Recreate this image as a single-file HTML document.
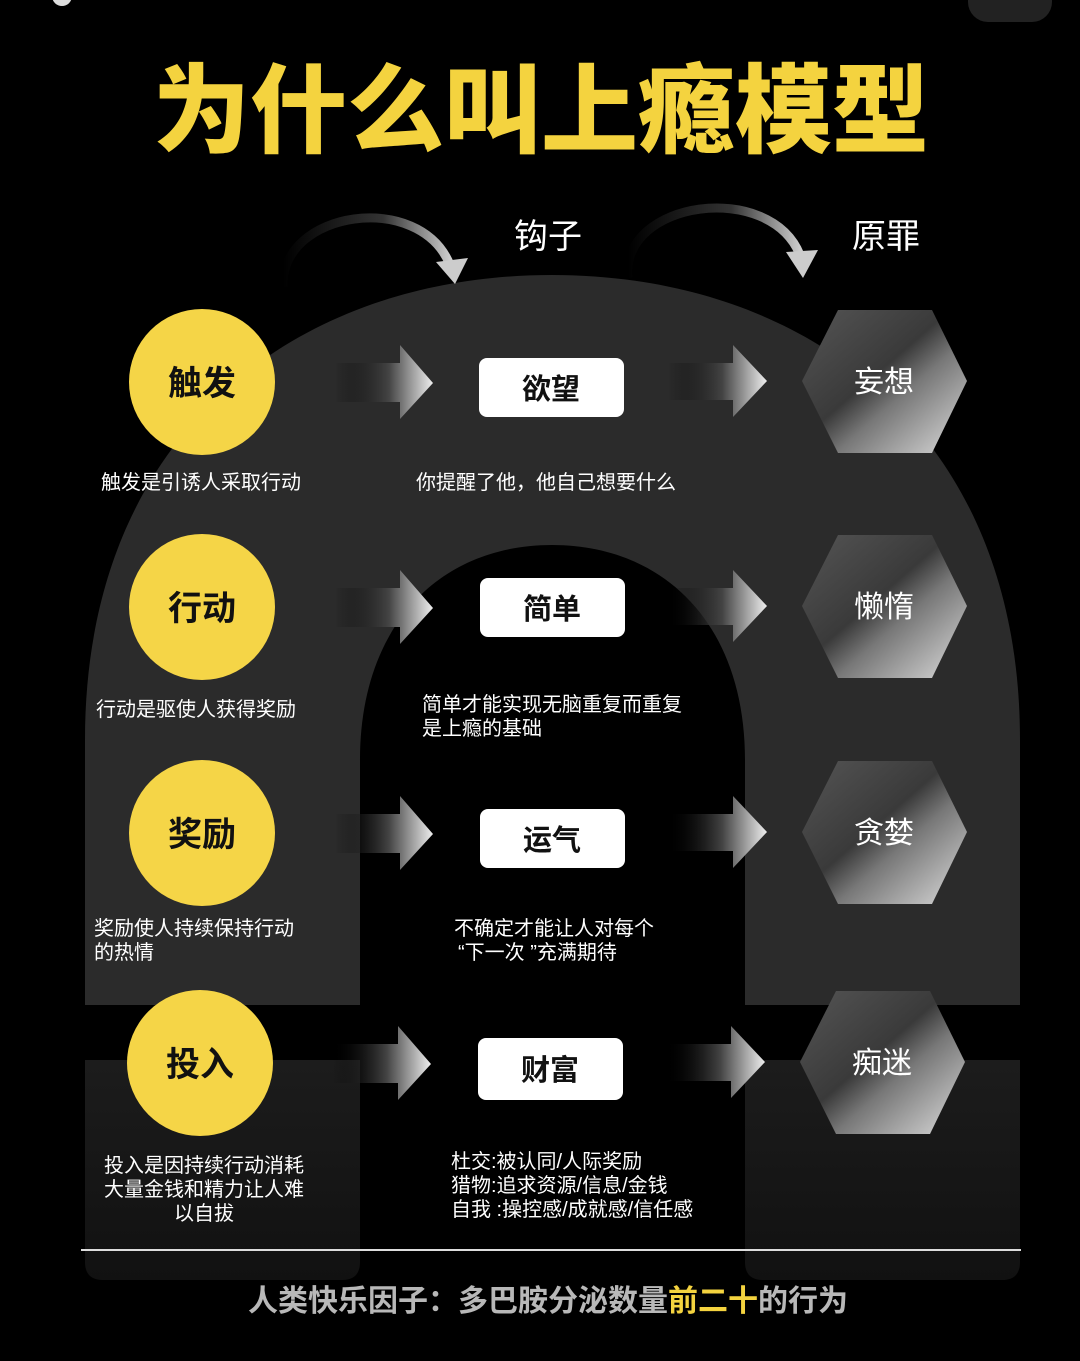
<!DOCTYPE html>
<html><head><meta charset="utf-8"><style>
html,body{margin:0;padding:0;background:#000;}
body{width:1080px;height:1361px;overflow:hidden;position:relative;font-family:"Liberation Sans","Noto Sans CJK SC",sans-serif;}
svg{position:absolute;left:0;top:0}
</style></head><body>
<svg width="1080" height="1361" viewBox="0 0 1080 1361" xmlns="http://www.w3.org/2000/svg">
<defs>
<linearGradient id="ar" x1="0" x2="1" y1="0" y2="0">
<stop offset="0" stop-color="#000" stop-opacity="0"/>
<stop offset="0.55" stop-color="#444"/>
<stop offset="1" stop-color="#eee"/>
</linearGradient>
<linearGradient id="hx" x1="0" y1="0" x2="1" y2="1">
<stop offset="0" stop-color="#555"/>
<stop offset="0.45" stop-color="#3a3a3a"/>
<stop offset="0.6" stop-color="#777"/>
<stop offset="1" stop-color="#ddd"/>
</linearGradient>
<linearGradient id="cv" x1="0" x2="1" y1="0" y2="0">
<stop offset="0" stop-color="#000"/>
<stop offset="0.6" stop-color="#333"/>
<stop offset="1" stop-color="#ccc"/>
</linearGradient>
<linearGradient id="leg" x1="0" x2="0" y1="0" y2="1">
<stop offset="0" stop-color="#1c1c1c"/>
<stop offset="1" stop-color="#111"/>
</linearGradient>
</defs>
<circle cx="62" cy="-4" r="10" fill="#ddd"/>
<rect x="968" y="-20" width="84" height="42" rx="20" fill="#222"/>
<text x="541" y="145" text-anchor="middle" font-family="Liberation Sans,Noto Sans CJK SC,sans-serif" font-weight="900" font-size="97" fill="#f4d33f">为什么叫上瘾模型</text>
<path d="M85,1005 L85,740 C85,430 300,275 552,275 C805,275 1020,430 1020,740 L1020,1005 L745,1005 L745,760 C745,625 665,545 552,545 C440,545 360,625 360,760 L360,1005 Z" fill="#2b2b2b"/>
<path d="M85,1060 L360,1060 L360,1262 Q360,1280 342,1280 L103,1280 Q85,1280 85,1262 Z" fill="url(#leg)"/>
<path d="M745,1060 L1020,1060 L1020,1262 Q1020,1280 1002,1280 L763,1280 Q745,1280 745,1262 Z" fill="url(#leg)"/>
<path d="M283,287 C280,210 420,190 450,265" fill="none" stroke="url(#cv)" stroke-width="9"/>
<polygon points="436,262 468,258 455,284" fill="#ccc"/>
<path d="M628,278 C620,200 770,180 800,255" fill="none" stroke="url(#cv)" stroke-width="9"/>
<polygon points="786,252 818,250 803,278" fill="#ccc"/>
<text x="548" y="248" text-anchor="middle" font-size="34" fill="#fff">钩子</text>
<text x="886" y="248" text-anchor="middle" font-size="34" fill="#fff">原罪</text>
<line x1="81" y1="1250" x2="1021" y2="1250" stroke="#ddd" stroke-width="2"/>
<g font-size="20" fill="#fff">
<text x="101" y="489">触发是引诱人采取行动</text>
<text x="416" y="489">你提醒了他，他自己想要什么</text>
<text x="96" y="716">行动是驱使人获得奖励</text>
<text x="422" y="711">简单才能实现无脑重复而重复</text>
<text x="422" y="735">是上瘾的基础</text>
<text x="94" y="935">奖励使人持续保持行动</text>
<text x="94" y="959">的热情</text>
<text x="454" y="935">不确定才能让人对每个</text>
<text x="458" y="959">“下一次 ”充满期待</text>
<text x="204" y="1172" text-anchor="middle">投入是因持续行动消耗</text>
<text x="204" y="1196" text-anchor="middle">大量金钱和精力让人难</text>
<text x="204" y="1220" text-anchor="middle">以自拔</text>
<text x="451" y="1168">杜交:被认同/人际奖励</text>
<text x="451" y="1192">猎物:追求资源/信息/金钱</text>
<text x="451" y="1216">自我 :操控感/成就感/信任感</text>
</g>
<text x="548" y="1311" text-anchor="middle" font-size="30" font-weight="bold" fill="#b8b8b8">人类快乐因子：多巴胺分泌数量<tspan fill="#f4d33f">前二十</tspan>的行为</text>
<g>
<circle cx="202" cy="382" r="73" fill="#f5d547"/>
<text x="202" y="395" text-anchor="middle" font-size="34" font-weight="bold" fill="#111">触发</text>
<polygon points="335,363 400,363 400,345 433,383 400,419 400,402 335,402" fill="url(#ar)"/>
<rect x="479" y="358" width="145" height="59" rx="8" fill="#fff"/>
<text x="551" y="399" text-anchor="middle" font-size="29" font-weight="bold" fill="#111">欲望</text>
<polygon points="668,363 733,363 733,345 767,381 733,417 733,400 668,400" fill="url(#ar)"/>
<polygon points="838,310 932,310 967,381 932,453 838,453 802,381" fill="url(#hx)"/>
<text x="884" y="392" text-anchor="middle" font-size="30" fill="#fff">妄想</text>
</g>
<g transform="translate(0,225)">
<circle cx="202" cy="382" r="73" fill="#f5d547"/>
<text x="202" y="395" text-anchor="middle" font-size="34" font-weight="bold" fill="#111">行动</text>
<polygon points="335,363 400,363 400,345 433,383 400,419 400,402 335,402" fill="url(#ar)"/>
<rect x="480" y="353" width="145" height="59" rx="8" fill="#fff"/>
<text x="552" y="394" text-anchor="middle" font-size="29" font-weight="bold" fill="#111">简单</text>
<polygon points="668,363 733,363 733,345 767,381 733,417 733,400 668,400" fill="url(#ar)"/>
<polygon points="838,310 932,310 967,381 932,453 838,453 802,381" fill="url(#hx)"/>
<text x="884" y="392" text-anchor="middle" font-size="30" fill="#fff">懒惰</text>
</g>
<g transform="translate(0,451)">
<circle cx="202" cy="382" r="73" fill="#f5d547"/>
<text x="202" y="395" text-anchor="middle" font-size="34" font-weight="bold" fill="#111">奖励</text>
<polygon points="335,363 400,363 400,345 433,383 400,419 400,402 335,402" fill="url(#ar)"/>
<rect x="480" y="358" width="145" height="59" rx="8" fill="#fff"/>
<text x="552" y="399" text-anchor="middle" font-size="29" font-weight="bold" fill="#111">运气</text>
<polygon points="668,363 733,363 733,345 767,381 733,417 733,400 668,400" fill="url(#ar)"/>
<polygon points="838,310 932,310 967,381 932,453 838,453 802,381" fill="url(#hx)"/>
<text x="884" y="392" text-anchor="middle" font-size="30" fill="#fff">贪婪</text>
</g>
<g transform="translate(-2,681)">
<circle cx="202" cy="382" r="73" fill="#f5d547"/>
<text x="202" y="395" text-anchor="middle" font-size="34" font-weight="bold" fill="#111">投入</text>
<polygon points="335,363 400,363 400,345 433,383 400,419 400,402 335,402" fill="url(#ar)"/>
<rect x="480" y="357" width="145" height="62" rx="8" fill="#fff"/>
<text x="552" y="399" text-anchor="middle" font-size="29" font-weight="bold" fill="#111">财富</text>
<polygon points="668,363 733,363 733,345 767,381 733,417 733,400 668,400" fill="url(#ar)"/>
<polygon points="838,310 932,310 967,381 932,453 838,453 802,381" fill="url(#hx)"/>
<text x="884" y="392" text-anchor="middle" font-size="30" fill="#fff">痴迷</text>
</g>
</svg>
</body></html>
